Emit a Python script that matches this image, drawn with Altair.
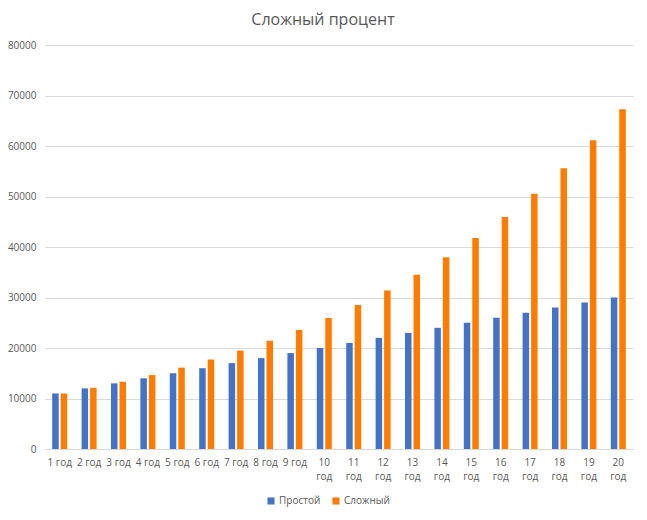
import altair as alt
import pandas as pd

years = [f"{i} год" for i in range(1, 21)]
simple = [11000, 12000, 13000, 14000, 15000, 16000, 17000, 18000, 19000, 20000,
          21000, 22000, 23000, 24000, 25000, 26000, 27000, 28000, 29000, 30000]
compound = [11000, 12100, 13310, 14641, 16105, 17716, 19487, 21436, 23579, 25937,
            28531, 31384, 34523, 37975, 41772, 45950, 50545, 55599, 61159, 67275]
series = ["Простой", "Сложный"]
colors = ["#4472C4", "#FF7C00"]

rows = []
for y, s, c in zip(years, simple, compound):
    rows.append({"year": y, "series": series[0], "value": s})
    rows.append({"year": y, "series": series[1], "value": c})
df = pd.DataFrame(rows)

FONT = "Open Sans"
GREY = "#595959"

chart = alt.Chart(df).mark_bar().encode(
    x=alt.X("year:N", sort=years, title=None,
            scale=alt.Scale(paddingInner=0.49, paddingOuter=0.245),
            axis=alt.Axis(labelAngle=0, ticks=False, domain=True, domainColor="#D9D9D9",
                          labelColor=GREY, labelFontSize=10, labelFont=FONT, labelPadding=8,
                          labelLineHeight=14,
                          labelExpr="length(datum.label) > 5 ? split(datum.label, ' ') : datum.label")),
    xOffset=alt.XOffset("series:N", sort=series, scale=alt.Scale(paddingInner=0.235)),
    y=alt.Y("value:Q", title=None,
            scale=alt.Scale(domain=[0, 80000], nice=False),
            axis=alt.Axis(values=list(range(0, 80001, 10000)), format="d", ticks=False, domain=False,
                          gridColor="#D9D9D9", labelColor=GREY, labelFontSize=10,
                          labelFont=FONT, labelPadding=9)),
    color=alt.Color("series:N", sort=series,
                    scale=alt.Scale(domain=series, range=colors),
                    legend=alt.Legend(title=None, orient="none", direction="horizontal",
                                      legendX=221, legendY=451, symbolType="square",
                                      symbolSize=50, symbolStrokeWidth=0,
                                      labelFontSize=10, labelColor=GREY, labelFont=FONT,
                                      columnPadding=10, labelOffset=3)),
).properties(
    width=588, height=404,
    title=alt.TitleParams("Сложный процент", fontSize=16, color=GREY, font=FONT,
                          fontWeight="normal", anchor="middle", dx=-16, offset=12),
    autosize=alt.AutoSizeParams(type="none"),
    padding={"left": 37, "top": 37, "right": 6, "bottom": 60},
).configure_view(stroke=None)

chart.save("out.html", embed_options={"renderer": "svg", "actions": False})
